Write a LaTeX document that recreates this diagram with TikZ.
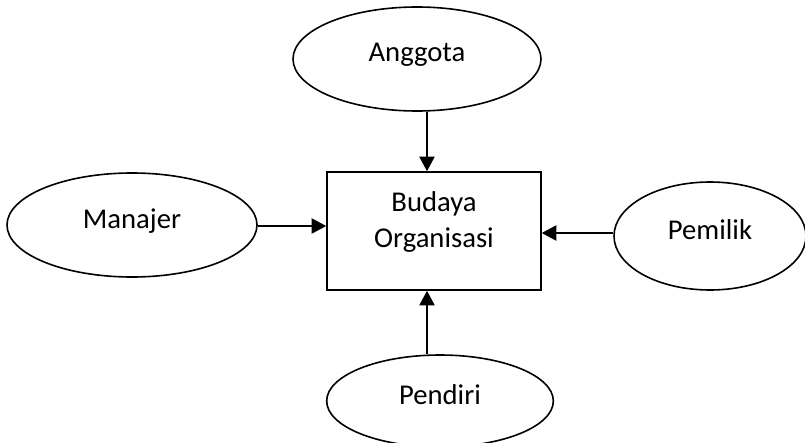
\documentclass[tikz,border=0pt]{standalone}
\usepackage{fontspec}
\setmainfont{Carlito}
\usetikzlibrary{shapes.geometric,arrows.meta}
\begin{document}
\begin{tikzpicture}[x=0.75pt,y=-0.75pt,
  every node/.style={font=\fontsize{21.5}{27}\selectfont, inner sep=0pt},
  oval/.style={ellipse, draw, line width=1.2pt, text height=15pt, text depth=10.5pt},
  centerbox/.style={rectangle, draw, line width=1.2pt, align=center, text height=38pt, text depth=13.25pt},
  arr/.style={line width=1.2pt, -{Triangle[length=11pt,width=11.5pt]}}]
\useasboundingbox (0,0) rectangle (805,442);
% central concept and the four surrounding influences
\node[centerbox, minimum width=160.5pt, minimum height=88.5pt] (box) at (434,231) {Budaya\\Organisasi};
\node[oval, minimum width=186pt, minimum height=78pt] (anggota) at (417,59) {Anggota};
\node[oval, minimum width=187.5pt, minimum height=78pt] (manajer) at (132,225) {Manajer};
\node[oval, minimum width=144pt, minimum height=81pt] (pemilik) at (710,236) {Pemilik};
\node[oval, minimum width=170pt, minimum height=69pt] (pendiri) at (440,401) {Pendiri};
% arrow lines
\coordinate (vx) at (427,0);
\coordinate (hm) at (0,226);
\coordinate (hp) at (0,233);
\draw[arr] (anggota.south -| vx) -- (box.north -| vx);
\draw[arr] (pendiri.north -| vx) -- (box.south -| vx);
\draw[arr] (manajer.east |- hm) -- (box.west |- hm);
\draw[arr] (pemilik.west |- hp) -- (box.east |- hp);
\end{tikzpicture}
\end{document}
